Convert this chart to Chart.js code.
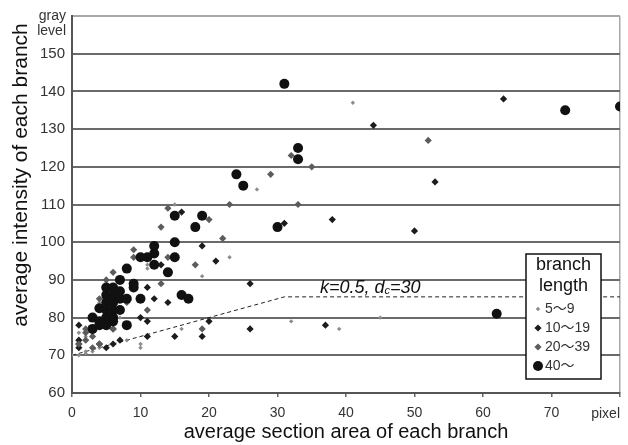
<!DOCTYPE html>
<html>
<head>
<meta charset="utf-8">
<script src="https://cdn.jsdelivr.net/npm/chart.js@4/dist/chart.umd.min.js"></script>
<style>
  body { margin: 0; background: #fff; }
</style>
</head>
<body>
<canvas id="chart" width="628" height="445"></canvas>
<script>
// datos: [área de sección, intensidad]
const seriesLabels = ['5〜9', '10〜19', '20〜39', '40〜'];

const len5to9 = [
  [0, 70], [1, 70], [1, 76], [2, 70.5], [2, 71], [2, 75], [3, 71], [3, 76], [4, 72], [4, 84],
  [7, 80], [8, 74], [10, 73], [10, 72], [11, 94], [11, 93], [15, 110], [16, 77], [19, 91],
  [23, 96], [27, 114], [32, 79], [39, 77], [41, 137], [45, 80]
];
const len10to19 = [
  [1, 78], [1, 74], [1, 73], [1, 72], [4, 73], [5, 72], [6, 73], [7, 74], [6, 77], [10, 80],
  [11, 75], [11, 79], [11, 88], [12, 85], [13, 94], [14, 84], [15, 75], [16, 108], [19, 99],
  [19, 75], [20, 79], [21, 95], [26, 89], [26, 77], [31, 105], [37, 78], [38, 106], [44, 131],
  [50, 103], [53, 116], [63, 138]
];
const len20to39 = [
  [1, 73], [2, 77], [2, 76], [2, 74], [3, 75], [3, 72], [4, 85], [4, 73], [5, 90], [5, 85],
  [6, 92], [6, 77], [7, 82], [8, 84], [9, 98], [9, 96], [11, 82], [13, 104], [13, 89], [14, 109],
  [14, 96], [18, 94], [19, 77], [20, 106], [22, 101], [23, 110], [29, 118], [32, 123], [33, 110],
  [35, 120], [52, 127]
];
const len40plus = [
  [3, 80], [3, 77], [4, 82.5], [4, 79], [4, 78], [5, 88], [5, 86], [5, 84], [5, 82], [5, 80],
  [5, 78], [6, 88], [6, 86], [6, 84], [6, 82], [6, 80], [6, 79], [7, 90], [7, 87], [7, 85],
  [7, 82], [8, 93], [8, 85], [8, 78], [9, 89], [9, 88], [10, 96], [10, 85], [11, 96], [12, 99],
  [12, 97], [12, 94], [14, 92], [15, 107], [15, 100], [15, 96], [16, 86], [17, 85], [18, 104],
  [19, 107], [24, 118], [25, 115], [30, 104], [31, 142], [33, 125], [33, 122], [62, 81],
  [72, 135], [80, 136]
];
// umbral k=0.5, dc=30
const thresholdLine = [[0, 70], [31, 85.5], [80, 85.5]];

const xMin = 0, xMax = 80, xStep = 10;
const yMin = 60, yMax = 160, yStep = 10;

const toXY = arr => arr.map(p => ({ x: p[0], y: p[1] }));

const FONT = '"Liberation Sans", Arial, "Noto Sans CJK JP", sans-serif';

const markerStyles = [
  { color: '#8c8c8c', style: 'rectRot', radius: 2.2 },
  { color: '#1c1c1c', style: 'rectRot', radius: 3.6 },
  { color: '#5c5c5c', style: 'rectRot', radius: 3.6 },
  { color: '#111111', style: 'circle', radius: 5 }
];

function drawMarker(ctx, m, x, y) {
  ctx.fillStyle = m.color;
  ctx.beginPath();
  if (m.style === 'circle') {
    ctx.arc(x, y, m.radius, 0, Math.PI * 2);
  } else {
    ctx.moveTo(x, y - m.radius);
    ctx.lineTo(x + m.radius, y);
    ctx.lineTo(x, y + m.radius);
    ctx.lineTo(x - m.radius, y);
    ctx.closePath();
  }
  ctx.fill();
}

// textos y leyenda dibujados encima
const extras = {
  id: 'extras',
  afterDraw(chart) {
    const { ctx, chartArea, scales: { x, y } } = chart;
    ctx.save();

    // unidades de los ejes
    ctx.fillStyle = '#333';
    ctx.font = '14px ' + FONT;
    ctx.textAlign = 'right';
    ctx.textBaseline = 'middle';
    ctx.fillText('gray', chartArea.left - 6, chartArea.top);
    ctx.fillText('level', chartArea.left - 6, chartArea.top + 15);
    ctx.fillText('pixel', chartArea.right, chartArea.bottom + 21);

    // título eje y
    ctx.save();
    ctx.translate(21, 175);
    ctx.rotate(-Math.PI / 2);
    ctx.textAlign = 'center';
    ctx.fillStyle = '#111';
    ctx.font = '21px ' + FONT;
    ctx.fillText('average intensity of each branch', 0, 0);
    ctx.restore();

    // etiqueta del umbral
    let tx = x.getPixelForValue(36.2);
    const ty = y.getPixelForValue(86.4);
    ctx.textAlign = 'left';
    ctx.textBaseline = 'alphabetic';
    ctx.fillStyle = '#111';
    ctx.font = 'italic 18px ' + FONT;
    ctx.fillText('k=0.5, d', tx, ty);
    tx += ctx.measureText('k=0.5, d').width;
    ctx.font = 'italic 11px ' + FONT;
    ctx.fillText('c', tx, ty + 1);
    tx += ctx.measureText('c').width;
    ctx.font = 'italic 18px ' + FONT;
    ctx.fillText('=30', tx, ty);

    // leyenda
    const lx = chartArea.right - 94, ly = chartArea.top + 238;
    const lw = 75, lh = 125;
    ctx.fillStyle = '#fff';
    ctx.fillRect(lx, ly, lw, lh);
    ctx.strokeStyle = '#111';
    ctx.lineWidth = 1.5;
    ctx.strokeRect(lx, ly, lw, lh);

    ctx.fillStyle = '#111';
    ctx.textAlign = 'center';
    ctx.textBaseline = 'middle';
    ctx.font = '18px ' + FONT;
    ctx.fillText('branch', lx + lw / 2, ly + 11);
    ctx.fillText('length', lx + lw / 2, ly + 32);

    ctx.font = '14px ' + FONT;
    ctx.textAlign = 'left';
    seriesLabels.forEach((lab, i) => {
      const iy = ly + 55 + i * 19;
      drawMarker(ctx, markerStyles[i], lx + 12, iy);
      ctx.fillStyle = '#333';
      ctx.fillText(lab, lx + 19, iy);
    });

    ctx.restore();
  }
};

const scatterSets = [len5to9, len10to19, len20to39, len40plus].map((arr, i) => ({
  type: 'scatter',
  label: seriesLabels[i],
  data: toXY(arr),
  pointStyle: markerStyles[i].style,
  pointRadius: markerStyles[i].radius,
  pointBackgroundColor: markerStyles[i].color,
  pointBorderWidth: 0,
  order: 4 - i
}));

const ctx = document.getElementById('chart').getContext('2d');
new Chart(ctx, {
  type: 'scatter',
  data: {
    datasets: [
      {
        type: 'line',
        label: 'k=0.5, dc=30',
        data: toXY(thresholdLine),
        borderColor: '#222',
        borderWidth: 1,
        borderDash: [4, 3],
        pointRadius: 0,
        fill: false,
        order: 10
      },
      ...scatterSets
    ]
  },
  options: {
    responsive: false,
    animation: false,
    devicePixelRatio: 1,
    layout: { padding: { top: 14, right: 7, left: 0, bottom: 0 } },
    plugins: {
      legend: { display: false },
      tooltip: { enabled: false }
    },
    scales: {
      x: {
        type: 'linear',
        min: xMin,
        max: xMax,
        ticks: {
          stepSize: xStep,
          color: '#333',
          font: { family: FONT, size: 14 },
          padding: 8,
          maxRotation: 0,
          callback: v => (v === xMax ? '' : v)
        },
        grid: {
          color: c => (c.tick && c.tick.value === xMax ? '#a8a8a8' : 'rgba(0,0,0,0)'),
          tickColor: '#666',
          tickLength: 4,
          lineWidth: 1.5
        },
        border: { color: '#555', width: 2 },
        title: {
          display: true,
          text: 'average section area of each branch',
          color: '#111',
          font: { family: FONT, size: 20 },
          padding: { top: 0, bottom: 1 }
        },
        afterFit: s => { s.height = 52; }
      },
      y: {
        min: yMin,
        max: yMax,
        ticks: {
          stepSize: yStep,
          color: '#333',
          font: { family: FONT, size: 15 },
          padding: 7,
          callback: v => (v === yMax ? '' : v)
        },
        grid: {
          color: c => (c.tick && c.tick.value === yMax ? '#a8a8a8' : '#6a6a6a'),
          lineWidth: 2,
          drawTicks: false
        },
        border: { color: '#555', width: 2 },
        afterFit: s => { s.width = 72; }
      }
    }
  },
  plugins: [extras]
});
</script>
</body>
</html>
